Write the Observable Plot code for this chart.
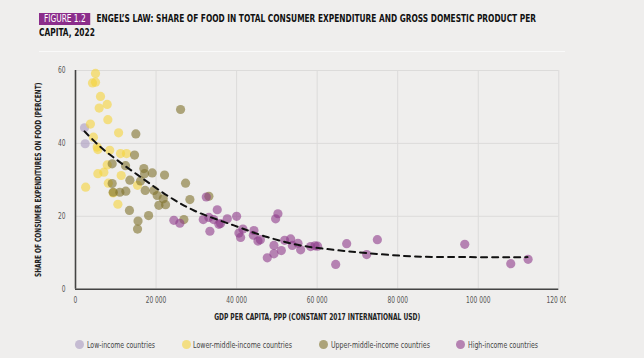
<!DOCTYPE html>
<html><head><meta charset="utf-8">
<script src="https://cdn.jsdelivr.net/npm/d3@7"></script>
<script src="https://cdn.jsdelivr.net/npm/@observablehq/plot@0.6"></script>
<style>
body{margin:0;background:#efeeed;width:644px;height:358px;overflow:hidden;position:relative;font-family:"DejaVu Sans Condensed","Liberation Sans Narrow",sans-serif;}
#title{position:absolute;left:39px;top:12px;font-weight:bold;font-size:10px;line-height:14px;color:#111;white-space:nowrap;transform-origin:0 0;}
#title .fig{background:#8b2d8b;color:#fff;padding:0 6px;margin-right:7px;display:inline-block;line-height:12px;font-weight:normal;}
#rule{position:absolute;left:39px;top:51px;width:526px;height:1px;background:#f9f9f9;}
#chart{position:absolute;left:0;top:55px;}
#chart svg{overflow:hidden;}
#legend{position:absolute;top:338px;left:0;width:644px;height:14px;font-size:9px;color:#444;}
#legend .sw{position:absolute;top:2px;width:9px;height:9px;border-radius:50%;}
#legend .tx{position:absolute;top:0;line-height:14px;white-space:nowrap;transform-origin:0 50%;}
</style></head>
<body>
<div id="title"><span id="line1"><span class="fig">FIGURE 1.2</span>ENGEL’S LAW: SHARE OF FOOD IN TOTAL CONSUMER EXPENDITURE AND GROSS DOMESTIC PRODUCT PER</span><br>CAPITA, 2022</div>
<div id="rule"></div>
<div id="chart"></div>
<div id="legend"></div>
<script>
const groups = ["Low-income countries","Lower-middle-income countries","Upper-middle-income countries","High-income countries"];
const groupColors = ["#a899c0","#f5d43a","#7f722c","#8e3a8a"];

const lowIncome = [[2240,44.3],[2400,39.9]];
const lowerMiddle = [[4970,59.2],[4220,56.6],[4970,56.8],[6210,52.9],[5880,49.7],[7870,50.7],[8030,46.5],[3700,45.3],[4450,41.7],[5380,39.0],[5550,38.3],[8500,38.1],[10700,42.9],[11180,37.2],[12670,37.2],[7870,34.1],[7040,32.1],[5550,31.7],[11350,31.2],[2520,28.0],[8150,29.1],[9360,26.4],[10520,23.3],[15400,28.5]];
const upperMiddle = [[14980,42.6],[26090,49.3],[14660,36.8],[9110,34.4],[12420,33.9],[16970,33.1],[17140,31.7],[19050,31.9],[22110,31.3],[13500,29.9],[16150,29.7],[9110,29.0],[17300,27.1],[19460,27.1],[9360,26.6],[11010,26.6],[12500,26.9],[20290,25.7],[21780,24.8],[20700,23.0],[22360,23.2],[13400,21.6],[18150,20.2],[15530,18.7],[15400,16.5],[27330,29.1],[28400,24.6],[33120,25.5],[26910,19.1]];
const highIncome = [[32470,25.3],[35200,21.8],[24420,18.9],[25910,18.1],[31720,19.1],[33120,19.7],[34300,19.1],[35600,17.8],[37690,19.3],[40000,20.0],[33370,15.9],[36020,18.0],[40580,15.4],[41570,16.5],[41000,14.2],[44300,16.1],[44150,14.8],[45300,13.2],[45900,13.6],[47620,8.6],[49270,12.0],[49270,9.7],[49690,19.3],[50260,20.7],[51100,10.6],[51930,13.4],[53420,13.8],[53840,12.0],[55230,12.6],[55900,10.8],[58380,11.7],[59460,11.9],[60100,11.8],[64600,6.8],[67330,12.5],[72300,9.5],[74950,13.6],[96650,12.3],[108070,7.0],[112380,8.2]];

const trendX = [2240,6210,10350,16150,22780,29400,39330,47620,55900,64180,72470,84050,98000,112220];
const trendY = [43.3,39.0,35.4,30.8,25.7,21.6,17.5,14.3,12.0,10.8,9.9,9.0,8.8,8.8];

const xTicks = [0,20000,40000,60000,80000,100000,120000];
const xTickLabels = ["0","20 000","40 000","60 000","80 000","100 000","120 000"];
const yTicks = [0,20,40,60];
const xLabel = "GDP PER CAPITA, PPP (CONSTANT 2017 INTERNATIONAL USD)";
const yLabel = "SHARE OF CONSUMER EXPENDITURES ON FOOD (PERCENT)";

const series = [lowIncome, lowerMiddle, upperMiddle, highIncome];
const points = series.flatMap((s, gi) => s.map(([x, y]) => ({x, y, g: groups[gi]})));
const trend = trendX.map((x, i) => ({x, y: trendY[i]}));
const font = '"DejaVu Sans Condensed","Liberation Sans Narrow",sans-serif';

const chart = Plot.plot({
  width: 566, height: 275,
  marginTop: 15, marginBottom: 41.3, marginLeft: 75, marginRight: 7.7,
  style: {background: "transparent", fontFamily: font, fontSize: "8px", color: "#555"},
  x: {domain: [0, 120000], ticks: xTicks, tickFormat: d => xTickLabels[xTicks.indexOf(d)], tickSize: 0, tickPadding: 8, label: null},
  y: {domain: [0, 60], ticks: yTicks, tickSize: 0, tickPadding: 10, label: null},
  color: {domain: groups, range: groupColors},
  marks: [
    Plot.gridX(xTicks, {stroke: "#dcdbda", strokeOpacity: 1}),
    Plot.gridY(yTicks, {stroke: "#dcdbda", strokeOpacity: 1}),
    Plot.ruleX([0], {stroke: "#444", strokeWidth: 1.6}),
    Plot.ruleY([0], {stroke: "#444", strokeWidth: 1.6}),
    Plot.dot(points, {x: "x", y: "y", fill: "g", r: 4.6, fillOpacity: 0.6}),
    Plot.line(trend, {x: "x", y: "y", stroke: "#111", strokeWidth: 2, strokeDasharray: "6,5", curve: "catmull-rom"}),
    Plot.text([yLabel], {frameAnchor: "left", textAnchor: "middle", dx: -37, rotate: -90, text: d => d, fontWeight: "bold", fontSize: 8.5, fill: "#222", className: "ylab"}),
    Plot.text([xLabel], {frameAnchor: "bottom", dy: 31, text: d => d, fontWeight: "bold", fontSize: 8.5, fill: "#222", className: "xlab"})
  ]
});
document.getElementById("chart").appendChild(chart);

// condense texts to match the narrow typeface of the original
function fitText(el, target) {
  const l = el.getComputedTextLength();
  if (l > 0) { el.setAttribute("textLength", target(l)); el.setAttribute("lengthAdjust", "spacingAndGlyphs"); }
}
d3.select(chart).selectAll('g[aria-label="x-axis tick label"] text, g[aria-label="y-axis tick label"] text').each(function(){ fitText(this, l => l * 0.82); });
d3.select(chart).selectAll('.xlab text').each(function(){ fitText(this, () => 206); });
d3.select(chart).selectAll('.ylab text').each(function(){
  const l = this.getComputedTextLength();
  const t = this.getAttribute("transform") || "";
  this.setAttribute("transform", `${t} scale(${195 / l},1)`);
});

// title scaling
const title = document.getElementById("title");
const w1 = document.getElementById("line1").getBoundingClientRect().width;
title.style.transform = `scaleX(${(536 - 39) / w1})`;

const swX = [74.5, 181.5, 318.5, 455.5];
const txX = [86.7, 193, 330.6, 467.8];
const txW = [68, 99, 99, 70];
const legend = document.getElementById("legend");
groups.forEach((g, i) => {
  const sw = document.createElement("div");
  sw.className = "sw";
  sw.style.left = swX[i] + "px";
  sw.style.background = groupColors[i];
  sw.style.opacity = 0.6;
  legend.appendChild(sw);
  const tx = document.createElement("div");
  tx.className = "tx";
  tx.style.left = txX[i] + "px";
  tx.textContent = g;
  legend.appendChild(tx);
  const w = tx.getBoundingClientRect().width;
  tx.style.transform = `scaleX(${txW[i] / w})`;
});
</script>
</body></html>
